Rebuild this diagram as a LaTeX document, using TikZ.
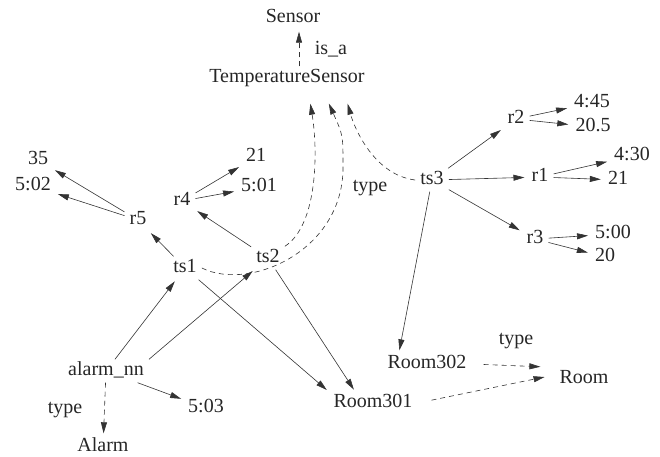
\documentclass[tikz,border=0pt]{standalone}
\usepackage{fontspec}
\setmainfont{Liberation Serif}
\usetikzlibrary{arrows.meta}
\begin{document}
\begin{tikzpicture}[x=1pt,y=-1pt,
            mot/.style={inner xsep=5pt,inner ysep=3pt,text=black!85,font=\fontsize{20}{24}\selectfont,text height=13pt,text depth=4pt},
            fl/.style={-{Triangle[length=11pt,width=6pt]},line width=0.6pt,draw=black!80,shorten >=2pt},
            tir/.style={fl,dash pattern=on 5pt off 4pt}]
            \useasboundingbox (0,0) rectangle (660,456);
            % les noeuds
            \node[mot] (sensor) at (293,18) {Sensor};
            \node[mot] (tempsensor) at (287,78) {TemperatureSensor};
            \node[mot] (isa) at (331,50) {is\_a};
            \node[mot] (v35) at (38,160) {35};
            \node[mot] (v502) at (33,186) {5:02};
            \node[mot] (r5) at (138,220) {r5};
            \node[mot] (r4) at (182,201) {r4};
            \node[mot] (v21a) at (256,157) {21};
            \node[mot] (v501) at (259,187) {5:01};
            \node[mot] (ts1) at (185,268) {ts1};
            \node[mot] (ts2) at (268,258) {ts2};
            \node[mot] (typets) at (370,187) {type};
            \node[mot] (ts3) at (432,180) {ts3};
            \node[mot] (r2) at (516,119) {r2};
            \node[mot] (v445) at (592,103) {4:45};
            \node[mot] (v205) at (593,127) {20.5};
            \node[mot] (r1) at (540,177) {r1};
            \node[mot] (v430) at (632,156) {4:30};
            \node[mot] (v21b) at (618,180) {21};
            \node[mot] (r3) at (535,239) {r3};
            \node[mot] (v500) at (613,234) {5:00};
            \node[mot] (v20) at (605,257) {20};
            \node[mot] (alarmnn) at (106,371) {alarm\_nn};
            \node[mot] (typealarm) at (65,409) {type};
            \node[mot] (alarm) at (103,447) {Alarm};
            \node[mot] (v503) at (206,408) {5:03};
            \node[mot] (room301) at (373,403) {Room301};
            \node[mot] (room302) at (427,364) {Room302};
            \node[mot] (typeroom) at (516,340) {type};
            \node[mot] (room) at (584,379) {Room};
            % les arcs
            \draw[tir] ([xshift=12pt]tempsensor.north) -- ([xshift=6pt]sensor.south);
            \draw[fl] (r5) -- (v35);
            \draw[fl] (r5) -- (v502);
            \draw[fl] (r4) -- (v21a);
            \draw[fl] (r4) -- (v501);
            \draw[fl] (ts1) -- (r5);
            \draw[fl] (ts2) -- (r4);
            \draw[tir] (ts1.east) .. controls (250,292) and (345,250) .. (343,165) .. controls (343,135) .. ([xshift=41pt,yshift=-12pt]tempsensor.south);
            \draw[tir] (ts2.north east) .. controls (318,225) and (318,150) .. ([xshift=23pt,yshift=-12pt]tempsensor.south);
            \draw[tir] (ts3.west) .. controls (375,175) and (355,130) .. ([xshift=60pt,yshift=-12pt]tempsensor.south);
            \draw[fl] (ts3) -- (r2);
            \draw[fl] (ts3) -- (r1);
            \draw[fl] (ts3) -- (r3);
            \draw[fl] (r2) -- (v445);
            \draw[fl] (r2) -- (v205);
            \draw[fl] (r1) -- (v430);
            \draw[fl] (r1) -- (v21b);
            \draw[fl] (r3) -- (v500);
            \draw[fl] (r3) -- (v20);
            \draw[fl] (ts3) -- ([xshift=-28pt]room302.north);
            \draw[fl] (ts1) -- (room301.north west);
            \draw[fl] (ts2) -- ([xshift=-18pt]room301.north);
            \draw[fl] (alarmnn) -- (ts1);
            \draw[fl] (alarmnn.north east) -- (ts2);
            \draw[fl] (alarmnn) -- (v503);
            \draw[tir] (alarmnn) -- (alarm);
            \draw[tir,shorten <=12pt,shorten >=14pt] (room302.east) -- (room.north west);
            \draw[tir,shorten <=14pt,shorten >=10pt] (room301.east) -- ([yshift=4pt]room.west);%le type de Room301
        \end{tikzpicture}
\end{document}
